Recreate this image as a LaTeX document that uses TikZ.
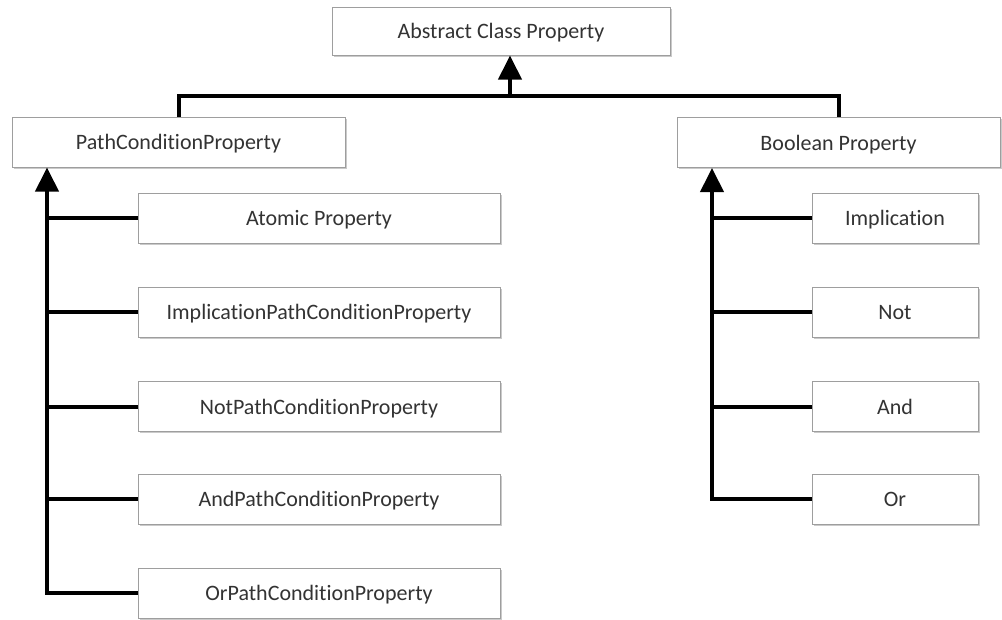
\documentclass[tikz,border=0pt]{standalone}
\usepackage{fontspec}
\setmainfont{Carlito}[Ligatures=NoCommon]
\usetikzlibrary{arrows.meta,shadows}
\begin{document}
\begin{tikzpicture}[x=1pt,y=-1pt,
  box/.style={draw=black!38, line width=1pt, fill=white, text=black!80,
    font=\fontsize{22}{25}\selectfont, inner sep=0pt, text depth=0pt,
    drop shadow={shadow xshift=1.5pt, shadow yshift=-1.5pt, opacity=0.35, fill=black!60}},
  link/.style={line width=4pt, line join=miter},
  tip/.style={link, -{Triangle[width=23pt,length=24pt]}}]
\useasboundingbox (0,0) rectangle (1002,619);
% class boxes
\node[box, minimum width=338, minimum height=48] (abs) at (501,31) {Abstract Class Property};
\node[box, minimum width=333, minimum height=50] (pcp) at (178.5,142) {PathConditionProperty};
\node[box, minimum width=323, minimum height=50] (bp) at (838.5,142.5) {Boolean Property};
\begin{scope}[every node/.append style={box, minimum width=362, minimum height=50}]
  \node (ap)   at (319,218)   {Atomic Property};
  \node (ipcp) at (319,312)   {ImplicationPathConditionProperty};
  \node (npcp) at (319,406.5) {NotPathConditionProperty};
  \node (apcp) at (319,499)   {AndPathConditionProperty};
  \node (opcp) at (319,593)   {OrPathConditionProperty};
\end{scope}
\begin{scope}[every node/.append style={box, minimum width=166, minimum height=50}]
  \node (imp) at (895,218)   {Implication};
  \node (nt)  at (895,312)   {Not};
  \node (an)  at (895,406.5) {And};
  \node (orr) at (895,499)   {Or};
\end{scope}
% spine positions
\coordinate (bar) at (510,96);
\coordinate (sl) at (47,0);
\coordinate (sr) at (712,0);
% top level inheritance
\draw[link] (pcp.north) |- (bar) -| (bp.north);
\draw[tip] (bar) -- (abs.south -| bar);
% left hierarchy
\draw[tip] (opcp.west) -| (pcp.south -| sl);
\foreach \n in {ap,ipcp,npcp,apcp}
  \draw[link] (\n.west -| sl) -- (\n.west);
% right hierarchy
\draw[tip] (orr.west) -| (bp.south -| sr);
\foreach \n in {imp,nt,an}
  \draw[link] (\n.west -| sr) -- (\n.west);
\end{tikzpicture}
\end{document}
